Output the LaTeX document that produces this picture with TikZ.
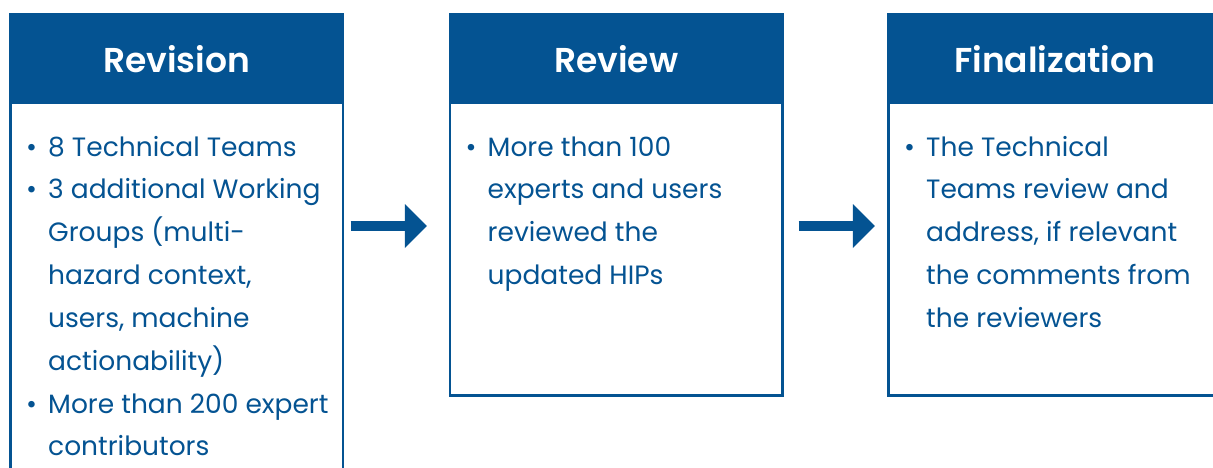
\documentclass[tikz,border=0pt]{standalone}
\usepackage{fontspec}
\setmainfont{Poppins}
\newfontfamily\headfont{Poppins SemiBold}
\usetikzlibrary{arrows.meta}
\definecolor{hipblue}{RGB}{4,83,146}
\tikzset{
  header/.style={fill=hipblue, text=white, inner sep=0pt, anchor=north west,
    minimum width=335pt, minimum height=89.7pt, text height=29.8pt, text depth=0pt,
    font=\fontsize{34.5}{40}\headfont},
  frame/.style={draw=hipblue, line width=2.6pt, inner sep=0pt, anchor=north,
    minimum width=332.4pt},
  bodytext/.style={anchor=base west, inner sep=0pt, text=hipblue,
    font=\fontsize{26.5}{42.85}\selectfont},
  flow/.style={draw=hipblue, line width=10pt,
    -{Triangle[length=22pt,width=44pt,line width=0pt]}}
}
\newcommand\pointlist[1]{\begin{tabular}[t]{@{}p{22pt}@{}l@{}}#1\end{tabular}}
\begin{document}
\begin{tikzpicture}[x=1pt,y=-1pt]
  \useasboundingbox (0,0) rectangle (1213,467);
  \clip (0,0) rectangle (1213,467);

  % stage headers
  \node[header] (h1) at (9,12.7) {Revision};
  \node[header] (h2) at (448.5,12.7) {Review};
  \node[header] (h3) at (887,12.7) {Finalization};

  % framed bodies below the headers
  \node[frame, minimum height=380pt] (b1) at ([yshift=1.3pt]h1.south) {};
  \node[frame, minimum height=292.7pt] (b2) at ([yshift=1.3pt]h2.south) {};
  \node[frame, minimum height=292.7pt] (b3) at ([yshift=1.3pt]h3.south) {};

  % bullet points
  \node[bodytext] (t1) at (26,156) {\pointlist{
    \textbullet & 8 Technical Teams\\
    \textbullet & 3 additional Working\\
    & Groups (multi-\\
    & hazard context,\\
    & users, machine\\
    & actionability)\\
    \textbullet & More than 200 expert\\
    & contributors}};
  \node[bodytext] (t2) at (465.5,156) {\pointlist{
    \textbullet & More than 100\\
    & experts and users\\
    & reviewed the\\
    & updated HIPs}};
  \node[bodytext] (t3) at (904,156) {\pointlist{
    \textbullet & The Technical\\
    & Teams review and\\
    & address, if relevant\\
    & the comments from\\
    & the reviewers}};

  % flow arrows between stages
  \coordinate (lvl) at (0,226);
  \draw[flow, shorten <=6.3pt, shorten >=21.8pt] (b1.east |- lvl) -- (b2.west |- lvl);
  \draw[flow, shorten <=14.8pt, shorten >=12.3pt] (b2.east |- lvl) -- (b3.west |- lvl);
\end{tikzpicture}
\end{document}
